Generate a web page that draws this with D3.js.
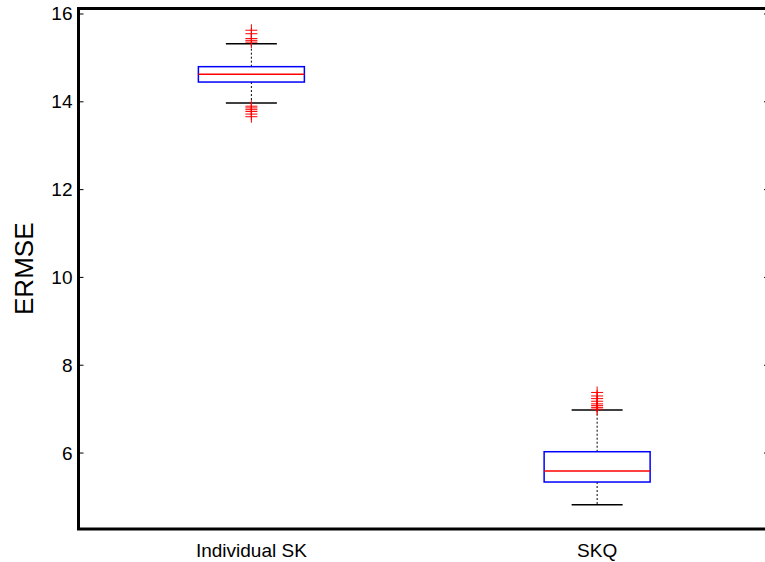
<!DOCTYPE html>
<html>
<head>
<meta charset="utf-8">
<script src="https://cdn.jsdelivr.net/npm/d3@7"></script>
<style>
  body { margin: 0; background: #fff; }
  text { font-family: "Liberation Sans", Arial, sans-serif; fill: #000; }
</style>
</head>
<body>
<script>
const groups = ['Individual SK', 'SKQ'];
const q1 = [14.45, 5.34];
const medians = [14.63, 5.59];
const q3 = [14.80, 6.03];
const whiskerLow = [13.97, 4.82];
const whiskerHigh = [15.32, 6.98];
const outliers = [
  [15.63, 15.55, 15.44, 15.40, 15.36, 13.90, 13.86, 13.82, 13.78, 13.72, 13.66],
  [7.38, 7.30, 7.24, 7.18, 7.12, 7.08, 7.04, 7.00]
];
const yTicks = [6, 8, 10, 12, 14, 16];

const w = 765, h = 562;
const plotLeft = 78.5, plotRight = 770, plotTop = 8.5, plotBottom = 529;

const svg = d3.select('body').append('svg')
  .attr('width', w)
  .attr('height', h);

const x = d3.scaleLinear([0.5, 2.5], [plotLeft, plotRight]);
const y = d3.scaleLinear([4.27, 16.125], [plotBottom, plotTop]);

const boxHalf = 53;
const capHalf = 25.5;

groups.forEach((g, i) => {
  const cx = x(i + 1);
  const gg = svg.append('g');

  // whiskers
  gg.append('line')
    .attr('x1', cx).attr('x2', cx)
    .attr('y1', y(q3[i])).attr('y2', y(whiskerHigh[i]))
    .attr('stroke', '#000').attr('stroke-width', 1).attr('stroke-dasharray', '2,2');
  gg.append('line')
    .attr('x1', cx).attr('x2', cx)
    .attr('y1', y(q1[i])).attr('y2', y(whiskerLow[i]))
    .attr('stroke', '#000').attr('stroke-width', 1).attr('stroke-dasharray', '2,2');

  // caps
  [whiskerHigh[i], whiskerLow[i]].forEach(v => {
    gg.append('line')
      .attr('x1', cx - capHalf).attr('x2', cx + capHalf)
      .attr('y1', y(v)).attr('y2', y(v))
      .attr('stroke', '#000').attr('stroke-width', 1.5);
  });

  // box
  gg.append('rect')
    .attr('x', cx - boxHalf)
    .attr('y', y(q3[i]))
    .attr('width', boxHalf * 2)
    .attr('height', y(q1[i]) - y(q3[i]))
    .attr('fill', 'none')
    .attr('stroke', '#0000ff')
    .attr('stroke-width', 1.5);

  // median
  gg.append('line')
    .attr('x1', cx - boxHalf).attr('x2', cx + boxHalf)
    .attr('y1', y(medians[i])).attr('y2', y(medians[i]))
    .attr('stroke', '#ff0000').attr('stroke-width', 1.5);

  // outliers as "+"
  gg.selectAll('path.out')
    .data(outliers[i])
    .enter().append('path')
    .attr('class', 'out')
    .attr('d', d => {
      const p = d3.path();
      const yy = y(d);
      p.moveTo(cx - 6, yy); p.lineTo(cx + 6, yy);
      p.moveTo(cx, yy - 6); p.lineTo(cx, yy + 6);
      return p;
    })
    .attr('fill', 'none')
    .attr('stroke', '#ff0000')
    .attr('stroke-width', 1);
});

// y ticks, inward on both sides
yTicks.forEach(t => {
  svg.append('line')
    .attr('x1', plotLeft).attr('x2', plotLeft + 5)
    .attr('y1', y(t)).attr('y2', y(t))
    .attr('stroke', '#000').attr('stroke-width', 1);
  svg.append('line')
    .attr('x1', plotRight - 6).attr('x2', plotRight)
    .attr('y1', y(t)).attr('y2', y(t))
    .attr('stroke', '#000').attr('stroke-width', 1);
  svg.append('text')
    .attr('x', 72.5)
    .attr('y', y(t))
    .attr('text-anchor', 'end')
    .attr('dominant-baseline', 'central')
    .style('font-size', '19px')
    .text(t);
});

// frame
svg.append('rect')
  .attr('x', plotLeft).attr('y', plotTop)
  .attr('width', plotRight - plotLeft).attr('height', plotBottom - plotTop)
  .attr('fill', 'none')
  .attr('stroke', '#000')
  .attr('stroke-width', 3);

// x labels
groups.forEach((g, i) => {
  svg.append('text')
    .attr('x', x(i + 1))
    .attr('y', 557)
    .attr('text-anchor', 'middle')
    .style('font-size', '19px')
    .text(g);
});

// y label
svg.append('text')
  .attr('transform', `translate(33,${(plotTop + plotBottom) / 2}) rotate(-90)`)
  .attr('text-anchor', 'middle')
  .style('font-size', '26px')
  .text('ERMSE');
</script>
</body>
</html>
